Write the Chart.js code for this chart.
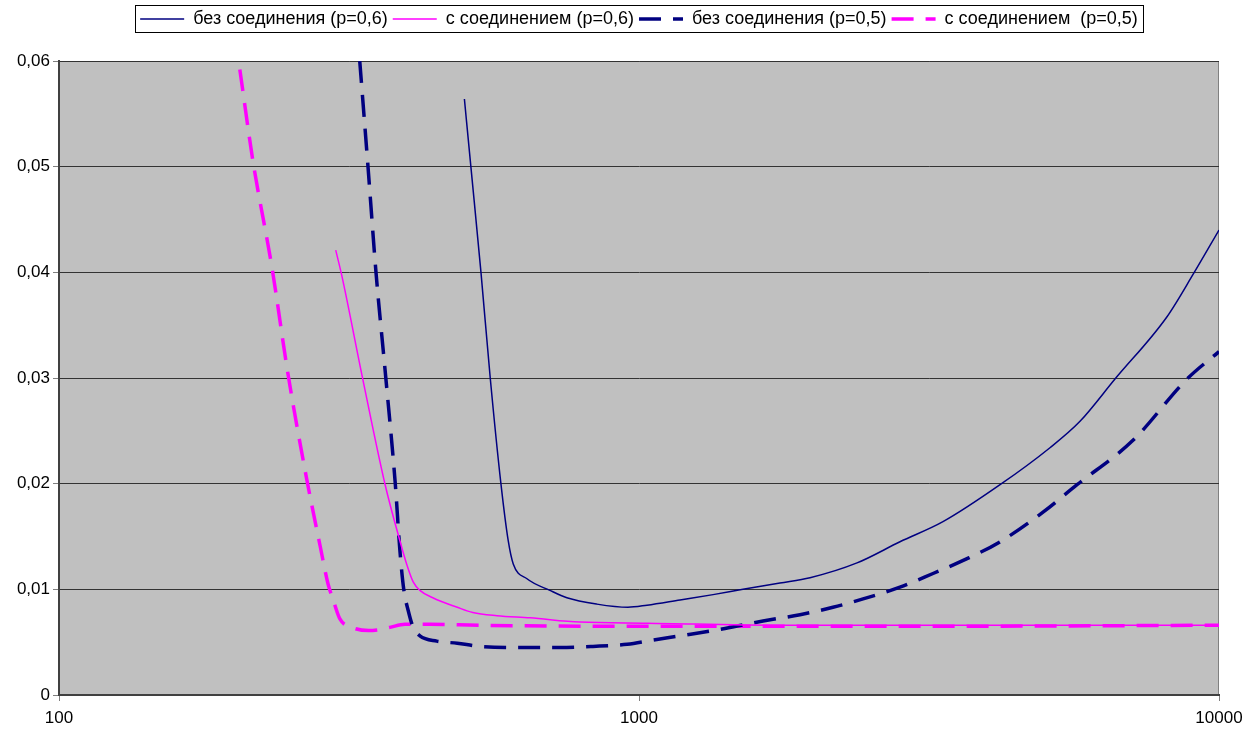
<!DOCTYPE html>
<html>
<head>
<meta charset="utf-8">
<script src="https://cdn.jsdelivr.net/npm/chart.js@4.4.0/dist/chart.umd.min.js"></script>
<style>
  html, body { margin: 0; padding: 0; background: #fff; }
  #wrap { width: 1257px; height: 731px; }
</style>
</head>
<body>
<div id="wrap"><canvas id="chart" width="1257" height="731"></canvas></div>
<script>
const seriesNames = [
  'без соединения (p=0,6)',
  'с соединением (p=0,6)',
  'без соединения (p=0,5)',
  'с соединением  (p=0,5)'
];

// без соединения (p=0,6)
const x1 = [500, 513, 534, 554, 578, 595, 607, 641, 702, 751, 846, 957, 1032, 1177, 1342, 1511, 1750, 1972, 2376, 2818, 3343, 4193, 5112, 5759, 6617, 8135, 9021, 10000];
const y1 = [0.0564, 0.050, 0.040, 0.030, 0.020, 0.0146, 0.0124, 0.0110, 0.0099, 0.0092, 0.0086, 0.0083, 0.0085, 0.0090, 0.0095, 0.0100, 0.0106, 0.0111, 0.0125, 0.0145, 0.0164, 0.0199, 0.0234, 0.0259, 0.0299, 0.0358, 0.0398, 0.0440];

// с соединением (p=0,6)
const x2 = [300, 307, 334, 365, 387, 398, 408, 419, 441, 486, 517, 569, 649, 791, 1032, 1750, 3000, 10000];
const y2 = [0.0421, 0.0398, 0.0299, 0.0199, 0.0146, 0.0123, 0.0107, 0.0099, 0.0092, 0.0083, 0.0078, 0.0075, 0.0073, 0.0069, 0.0068, 0.0066, 0.0066, 0.0066];

// без соединения (p=0,5)
const x3 = [330, 341, 352, 366, 380, 387, 393, 400, 408, 419, 448, 486, 532, 623, 731, 833, 954, 1057, 1210, 1407, 1636, 1895, 2160, 2434, 2818, 3213, 3678, 4193, 4973, 5691, 7107, 8806, 10000];
const y3 = [0.060, 0.050, 0.040, 0.030, 0.020, 0.0137, 0.0100, 0.0080, 0.0064, 0.0056, 0.0051, 0.0049, 0.0046, 0.0045, 0.0045, 0.0046, 0.0048, 0.0052, 0.0057, 0.0063, 0.0070, 0.0076, 0.0083, 0.0091, 0.0102, 0.0115, 0.0129, 0.0145, 0.0173, 0.0199, 0.0241, 0.0299, 0.0325];

// с соединением (p=0,5)
const x4 = [205, 216, 233, 248, 267, 282, 291, 297, 305, 320, 342, 358, 372, 395, 436, 532, 1000, 3000, 10000];
const y4 = [0.0592, 0.0505, 0.0404, 0.0305, 0.0206, 0.0141, 0.0105, 0.0090, 0.0072, 0.0064, 0.0061, 0.0062, 0.0064, 0.0067, 0.0067, 0.0066, 0.0065, 0.0065, 0.0066];

const xTicks = [100, 1000, 10000];
const yTicks = [0, 0.01, 0.02, 0.03, 0.04, 0.05, 0.06];

const NAVY = '#000080';
const PINK = '#ff00ff';
const FONT = "'Liberation Sans', Arial, sans-serif";

function toPoints(xs, ys) {
  return xs.map((x, i) => ({ x: x, y: ys[i] }));
}

function makeSet(name, xs, ys, color, width, dash) {
  return {
    label: name,
    data: toPoints(xs, ys),
    borderColor: color,
    backgroundColor: color,
    borderWidth: width,
    borderDash: dash,
    pointRadius: 0,
    fill: false,
    cubicInterpolationMode: 'monotone'
  };
}

// grey plot area + frame
const plotBackground = {
  id: 'plotBackground',
  beforeDraw(chart) {
    const { ctx, chartArea: a } = chart;
    ctx.save();
    ctx.fillStyle = '#c0c0c0';
    ctx.fillRect(a.left, a.top, a.width, a.height);
    ctx.strokeStyle = '#808080';
    ctx.lineWidth = 1;
    ctx.strokeRect(a.left + 0.5, a.top + 0.5, a.width - 1, a.height - 1);
    ctx.restore();
  }
};

// legend: extra room under it, centred over the plot, with a box round it
const legendFrame = {
  id: 'legendFrame',
  afterInit(chart) {
    const legend = chart.legend;
    const fit = legend.fit;
    legend.fit = function () {
      fit.call(this);
      this.height += 23;
    };
  },
  afterLayout(chart) {
    const lg = chart.legend;
    lg.left = chart.chartArea.left;
    lg.right = chart.chartArea.right;
    lg.width = lg.right - lg.left;
  },
  afterDraw(chart) {
    const boxes = chart.legend.legendHitBoxes;
    if (!boxes || !boxes.length) return;
    const first = boxes[0];
    const last = boxes[boxes.length - 1];
    const ctx = chart.ctx;
    ctx.save();
    ctx.strokeStyle = '#000';
    ctx.lineWidth = 1;
    const left = Math.round(first.left - 5) + 0.5;
    const right = Math.round(last.left + last.width + 5) + 0.5;
    const top = Math.round(first.top - 5) + 0.5;
    const bottom = Math.round(first.top + first.height + 4) + 0.5;
    ctx.strokeRect(left, top, right - left, bottom - top);
    ctx.restore();
  }
};

const chart = new Chart(document.getElementById('chart'), {
  type: 'line',
  data: {
    datasets: [
      makeSet(seriesNames[0], x1, y1, NAVY, 1.5, []),
      makeSet(seriesNames[1], x2, y2, PINK, 1.5, []),
      makeSet(seriesNames[2], x3, y3, NAVY, 3.5, [22, 12]),
      makeSet(seriesNames[3], x4, y4, PINK, 3.5, [22, 12])
    ]
  },
  options: {
    responsive: false,
    animation: false,
    devicePixelRatio: 1,
    layout: { padding: { top: 5, left: 0, right: 38, bottom: 0 } },
    plugins: {
      tooltip: { enabled: false },
      legend: {
        position: 'top',
        labels: {
          color: '#000',
          font: { family: FONT, size: 18 },
          usePointStyle: true,
          pointStyle: 'line',
          pointStyleWidth: 44,
          padding: 5,
          generateLabels: c => {
            const items = Chart.defaults.plugins.legend.labels.generateLabels(c);
            items.forEach(it => {
              const ds = c.data.datasets[it.datasetIndex];
              it.lineDash = ds.borderDash;
              it.lineWidth = ds.borderWidth;
              it.strokeStyle = ds.borderColor;
            });
            return items;
          }
        }
      }
    },
    scales: {
      x: {
        type: 'logarithmic',
        min: 100,
        max: 10000,
        afterBuildTicks: s => { s.ticks = xTicks.map(v => ({ value: v })); },
        afterFit: s => { s.height = 36; },
        ticks: {
          color: '#000',
          font: { family: FONT, size: 17 },
          padding: 7,
          maxRotation: 0,
          callback: v => String(v)
        },
        grid: { drawOnChartArea: false, drawTicks: true, tickLength: 6, color: '#808080' },
        border: { color: '#404040', width: 2 }
      },
      y: {
        min: 0,
        max: 0.06,
        afterBuildTicks: s => { s.ticks = yTicks.map(v => ({ value: v })); },
        afterFit: s => { s.width = 59; },
        ticks: {
          color: '#000',
          font: { family: FONT, size: 17 },
          padding: 3,
          callback: v => v === 0 ? '0' : v.toFixed(2).replace('.', ',')
        },
        grid: { color: '#333', lineWidth: 1, tickLength: 6, tickColor: '#808080' },
        border: { color: '#404040', width: 2 }
      }
    }
  },
  plugins: [plotBackground, legendFrame]
});
</script>
</body>
</html>
